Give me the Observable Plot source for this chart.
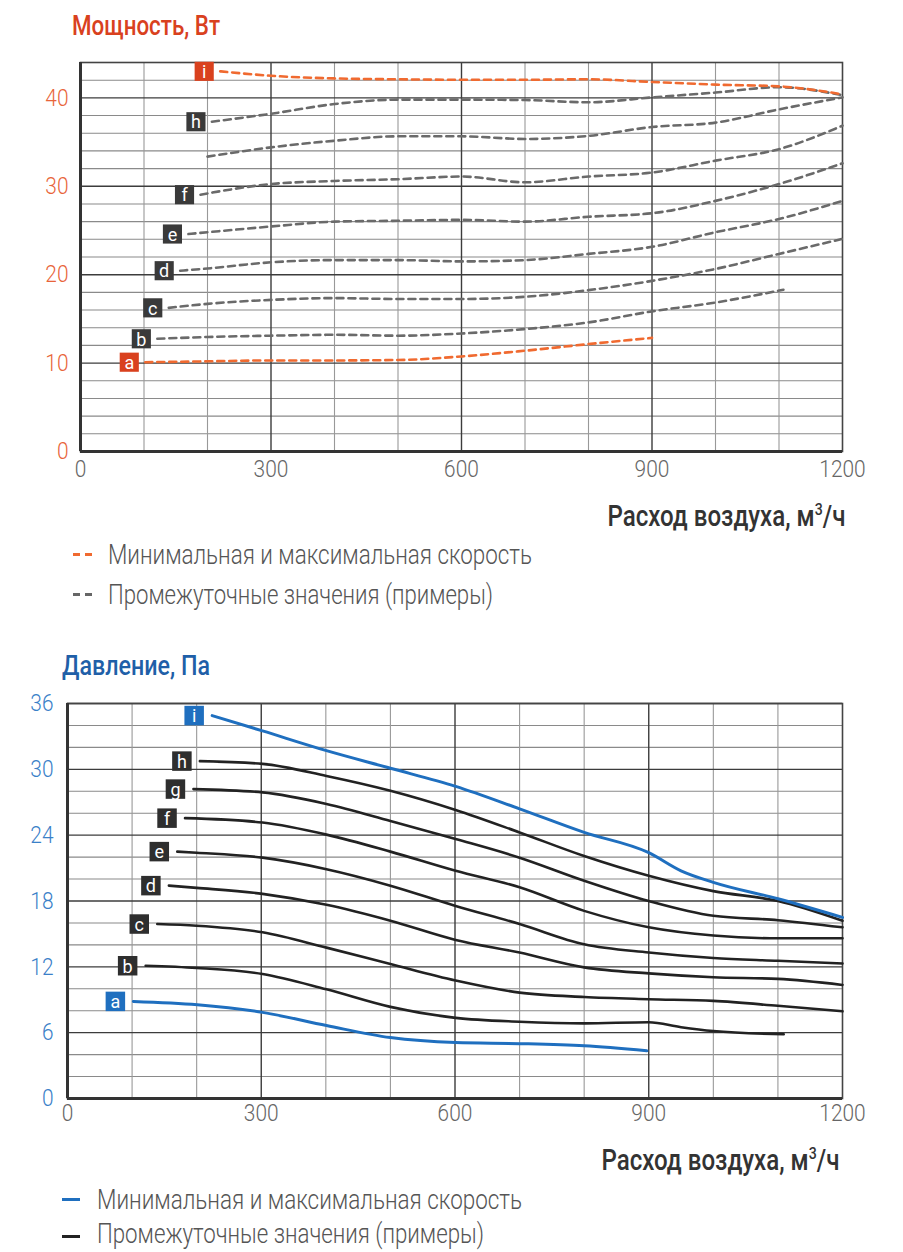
<!DOCTYPE html>
<html>
<head>
<meta charset="utf-8">
<script src="https://cdn.jsdelivr.net/npm/d3@7"></script>
<script src="https://cdn.jsdelivr.net/npm/@observablehq/plot@0.6"></script>
<style>
  html, body { margin: 0; padding: 0; background: #fff; }
  body { width: 903px; height: 1252px; position: relative; overflow: hidden; font-family: Roboto, "Noto Sans", sans-serif; }
  .abs { position: absolute; white-space: nowrap; line-height: 1; display: inline-block; }
  .title { font-size: 28px; font-weight: 500; }
  .xtitle { font-size: 29px; font-weight: 500; color: #333; }
  .leg { font-size: 28px; font-weight: 300; color: #555; }
  .sw { position: absolute; height: 3px; }
  #power, #pressure { position: absolute; left: 0; }
  #power { top: 40px; }
  #pressure { top: 680px; }
</style>
</head>
<body>
<div class="abs title fit" data-w="148" style="left:72px; top:12px; color:#d9411e;">Мощность, Вт</div>
<div id="power"></div>
<div class="abs xtitle fit" data-w="238" data-o="right" style="right:58px; top:502px;">Расход воздуха, м<sup style="font-size:17px;vertical-align:11px;line-height:0">3</sup>/ч</div>
<div class="sw" style="left:73px; top:553px; width:7px; background:#f06a30;"></div>
<div class="sw" style="left:85px; top:553px; width:7px; background:#f06a30;"></div>
<div class="abs leg fit" data-w="424" style="left:108px; top:541px;">Минимальная и максимальная скорость</div>
<div class="sw" style="left:73px; top:593px; width:7px; background:#666;"></div>
<div class="sw" style="left:85px; top:593px; width:7px; background:#666;"></div>
<div class="abs leg fit" data-w="385" style="left:108px; top:581px;">Промежуточные значения (примеры)</div>

<div class="abs title fit" data-w="148" style="left:62px; top:652px; color:#1f5fa8;">Давление, Па</div>
<div id="pressure"></div>
<div class="abs xtitle fit" data-w="238" data-o="right" style="right:64px; top:1146px;">Расход воздуха, м<sup style="font-size:17px;vertical-align:11px;line-height:0">3</sup>/ч</div>
<div class="sw" style="left:62px; top:1198px; width:18px; background:#1f6fbf;"></div>
<div class="abs leg fit" data-w="425" style="left:97px; top:1186px;">Минимальная и максимальная скорость</div>
<div class="sw" style="left:62px; top:1235px; width:18px; background:#222;"></div>
<div class="abs leg fit" data-w="387" style="left:97px; top:1221px; font-size:27px;">Промежуточные значения (примеры)</div>

<script>
// ---- tick labels ----
const flowTicks = [0, 300, 600, 900, 1200];
const powerTicks = [0, 10, 20, 30, 40];
const pressureTicks = [0, 6, 12, 18, 24, 30, 36];

// ---- power (W) vs air flow (m3/h): [flow, power] ----
const powerA = [[102,10.1],[200,10.2],[300,10.3],[400,10.3],[500,10.35],[600,10.75],[700,11.4],[800,12.15],[900,12.85]];
const powerB = [[121,12.75],[200,12.95],[300,13.1],[400,13.2],[500,13.1],[600,13.35],[700,13.85],[800,14.6],[900,15.85],[1000,16.85],[1107,18.3]];
const powerC = [[139,16.25],[200,16.7],[300,17.15],[400,17.35],[500,17.25],[600,17.25],[700,17.5],[800,18.25],[900,19.3],[1000,20.65],[1100,22.35],[1200,24.05]];
const powerD = [[157,20.45],[200,20.7],[300,21.4],[400,21.65],[500,21.65],[600,21.5],[700,21.65],[800,22.35],[900,23.15],[1000,24.8],[1100,26.3],[1200,28.35]];
const powerE = [[170,24.6],[200,24.8],[300,25.45],[400,26.0],[500,26.1],[600,26.2],[700,26.0],[800,26.55],[900,26.95],[1000,28.35],[1100,30.25],[1200,32.6]];
const powerF = [[189,29.05],[300,30.25],[400,30.6],[500,30.8],[600,31.1],[700,30.45],[800,31.1],[900,31.55],[1000,32.9],[1100,34.2],[1200,36.85]];
const powerG = [[200,33.35],[300,34.4],[400,35.15],[500,35.65],[600,35.65],[700,35.35],[800,35.7],[900,36.7],[1000,37.2],[1100,38.7],[1200,40.05]];
const powerH = [[207,37.3],[300,38.2],[400,39.3],[500,39.8],[600,39.8],[700,39.75],[800,39.5],[900,40.05],[1000,40.6],[1100,41.2],[1200,40.3]];
const powerI = [[220,43.0],[300,42.5],[400,42.2],[500,42.1],[600,42.05],[700,42.05],[800,42.1],[900,41.8],[1000,41.5],[1100,41.3],[1200,40.4]];

// ---- pressure (Pa) vs air flow (m3/h): [flow, pressure] ----
const pressureA = [[102,8.85],[201,8.55],[302,7.85],[401,6.65],[500,5.55],[601,5.1],[700,5.0],[800,4.8],[897,4.35]];
const pressureB = [[121,12.1],[200,11.9],[302,11.35],[401,9.95],[500,8.35],[601,7.35],[700,7.0],[800,6.85],[900,6.95],[950,6.5],[1000,6.15],[1109,5.85]];
const pressureC = [[139,15.9],[200,15.75],[302,15.15],[401,13.75],[500,12.25],[601,10.75],[700,9.65],[800,9.25],[900,9.05],[1000,8.9],[1100,8.45],[1200,7.95]];
const pressureD = [[157,19.4],[200,19.2],[302,18.65],[401,17.65],[500,16.2],[601,14.45],[700,13.3],[800,11.95],[900,11.4],[1000,11.05],[1100,10.9],[1200,10.35]];
const pressureE = [[170,22.5],[200,22.4],[302,21.95],[401,20.9],[500,19.4],[601,17.55],[700,15.9],[800,14.05],[900,13.3],[1000,12.8],[1100,12.55],[1200,12.3]];
const pressureF = [[182,25.55],[302,25.15],[401,24.05],[500,22.5],[601,20.75],[700,19.25],[800,17.1],[900,15.6],[1000,14.85],[1100,14.6],[1200,14.6]];
const pressureG = [[195,28.2],[302,27.9],[401,26.85],[500,25.3],[601,23.65],[700,21.95],[800,19.85],[900,18.0],[1000,16.65],[1100,16.25],[1200,15.6]];
const pressureH = [[205,30.75],[302,30.5],[401,29.4],[500,28.05],[601,26.3],[700,24.25],[800,22.1],[900,20.3],[1000,18.9],[1100,18.0],[1200,16.2]];
const pressureI = [[224,34.9],[302,33.5],[401,31.7],[500,30.1],[601,28.45],[700,26.4],[800,24.25],[900,22.4],[950,20.75],[1000,19.7],[1100,18.2],[1200,16.5]];

const seriesKeys = ["a","b","c","d","e","f","g","h","i"];
const minMaxKeys = ["a","i"];
const powerLabelKeys = ["a","b","c","d","e","f","h","i"]; // "g" label absent in the power chart
const powerSeries = [powerA, powerB, powerC, powerD, powerE, powerF, powerG, powerH, powerI];
const pressureSeries = [pressureA, pressureB, pressureC, pressureD, pressureE, pressureF, pressureG, pressureH, pressureI];

function toRows(list) {
  return list.flatMap((pts, k) => pts.map(([x, y]) => ({key: seriesKeys[k], x, y, mm: minMaxKeys.includes(seriesKeys[k])})));
}
function starts(list, keys) {
  return list.map((pts, k) => ({key: seriesKeys[k], x: pts[0][0], y: pts[0][1], mm: minMaxKeys.includes(seriesKeys[k])}))
             .filter(d => keys.includes(d.key));
}

function gridMarks(step, yMax, majorStep) {
  const minorY = d3.range(0, yMax + 0.001, step).filter(v => v % majorStep !== 0);
  const majorY = d3.range(0, yMax + 0.001, majorStep);
  const minorX = d3.range(100, 1200, 100).filter(v => v % 300 !== 0);
  return [
    Plot.ruleY(minorY, {stroke: "#8a8a8a", strokeWidth: 1.1}),
    Plot.ruleX(minorX, {stroke: "#999", strokeWidth: 1.1}),
    Plot.ruleY(majorY, {stroke: "#3c3c3c", strokeWidth: 1.4}),
    Plot.ruleX([300, 600, 900], {stroke: "#3c3c3c", strokeWidth: 1.4}),
    Plot.frame({stroke: "#444", strokeWidth: 1.6}),
    Plot.ruleX([0], {stroke: "#333", strokeWidth: 3}),
    Plot.ruleY([0], {stroke: "#333", strokeWidth: 3})
  ];
}

const font = 'Roboto, "Noto Sans", sans-serif';
const fmt = d => String(d);

// narrow the digit glyphs like the condensed face of the original
function condenseTicks(svg) {
  d3.select(svg).selectAll('g[aria-label$="tick label"] text').each(function () {
    const n = this.textContent.length;
    this.setAttribute("textLength", 11.6 * n);
    this.setAttribute("lengthAdjust", "spacingAndGlyphs");
  });
}

// ---- power chart ----
const pRows = toRows(powerSeries);
const pStarts = starts(powerSeries, powerLabelKeys);
const power = Plot.plot({
  width: 903, height: 440,
  marginLeft: 80, marginRight: 61, marginTop: 22, marginBottom: 29,
  x: {domain: [0, 1200], axis: null},
  y: {domain: [0, 44], axis: null},
  style: {fontFamily: font, background: "transparent", overflow: "visible"},
  marks: [
    ...gridMarks(2, 44, 10),
    Plot.axisX(flowTicks, {tickSize: 0, tickPadding: 9, fontSize: 23, fontWeight: 300, color: "#666", label: null, tickFormat: fmt}),
    Plot.axisY(powerTicks, {tickSize: 0, tickPadding: 12, fontSize: 24, fontWeight: 300, color: "#e8643a", label: null, tickFormat: fmt}),
    Plot.line(pRows.filter(d => !d.mm), {x: "x", y: "y", z: "key", stroke: "#6a6a6a", strokeWidth: 2.6,
      strokeDasharray: "7,5", curve: "monotone-x"}),
    Plot.line(pRows.filter(d => d.mm), {x: "x", y: "y", z: "key", stroke: "#f06a30", strokeWidth: 2.6,
      strokeDasharray: "7,5", curve: "monotone-x"}),
    Plot.dot(pStarts, {x: "x", y: "y", dx: -16, symbol: "square", r: 10.8, stroke: null,
      fill: d => d.mm ? "#d9411e" : "#3a3a3a"}),
    Plot.text(pStarts, {x: "x", y: "y", dx: -16, dy: 1, text: "key", fill: "white", fontSize: 18})
  ]
});
condenseTicks(power);
document.getElementById("power").append(power);

// ---- pressure chart ----
const qRows = toRows(pressureSeries);
const qStarts = starts(pressureSeries, seriesKeys);
const pressure = Plot.plot({
  width: 903, height: 450,
  marginLeft: 67, marginRight: 61, marginTop: 23, marginBottom: 32,
  x: {domain: [0, 1200], axis: null},
  y: {domain: [0, 36], axis: null},
  style: {fontFamily: font, background: "transparent", overflow: "visible"},
  marks: [
    ...gridMarks(2, 36, 6),
    Plot.axisX(flowTicks, {tickSize: 0, tickPadding: 6, fontSize: 23, fontWeight: 300, color: "#666", label: null, tickFormat: fmt}),
    Plot.axisY(pressureTicks, {tickSize: 0, tickPadding: 14, fontSize: 24, fontWeight: 300, color: "#3a80c8", label: null, tickFormat: fmt}),
    Plot.line(qRows.filter(d => !d.mm), {x: "x", y: "y", z: "key", stroke: "#222", strokeWidth: 2.6, curve: "monotone-x"}),
    Plot.line(qRows.filter(d => d.mm), {x: "x", y: "y", z: "key", stroke: "#1f6fbf", strokeWidth: 3, curve: "monotone-x"}),
    Plot.dot(qStarts, {x: "x", y: "y", dx: -18, symbol: "square", r: 11, stroke: null,
      fill: d => d.mm ? "#1f6fbf" : "#2e2e2e"}),
    Plot.text(qStarts, {x: "x", y: "y", dx: -18, dy: 1, text: "key", fill: "white", fontSize: 18})
  ]
});
condenseTicks(pressure);
document.getElementById("pressure").append(pressure);

// fit the HTML texts to the widths they take in the original
document.querySelectorAll(".fit").forEach(el => {
  const w = el.getBoundingClientRect().width;
  const target = +el.dataset.w;
  el.style.transformOrigin = el.dataset.o === "right" ? "right center" : "left center";
  el.style.transform = `scaleX(${target / w})`;
});
</script>
</body>
</html>
